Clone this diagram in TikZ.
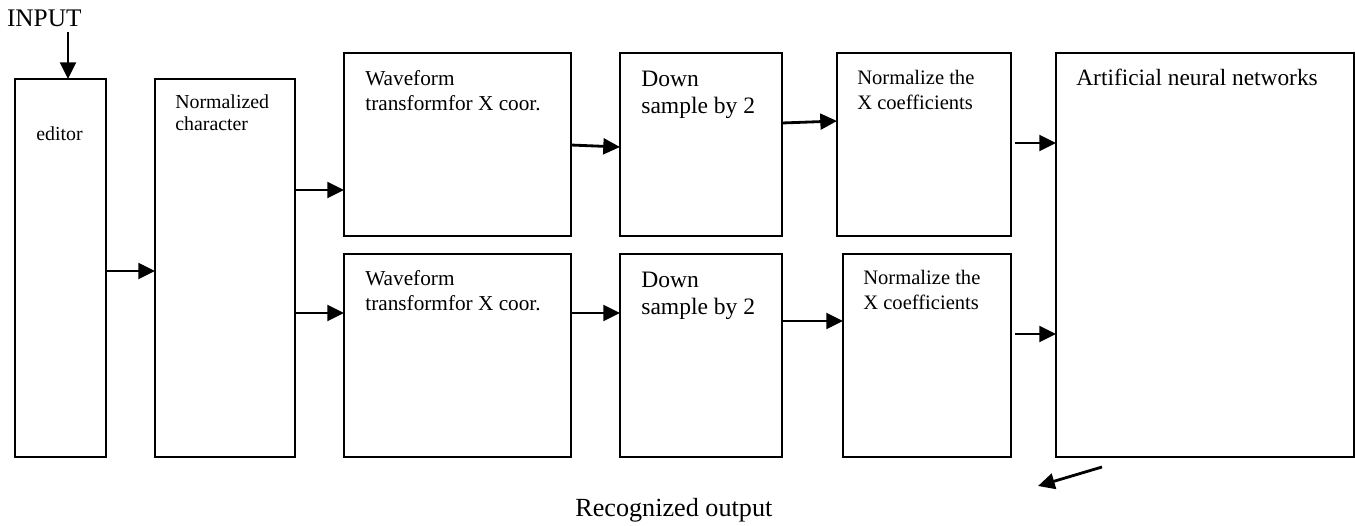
\documentclass[tikz,border=0pt]{standalone}
\usepackage{fontspec}
\setmainfont{Liberation Serif}
\usetikzlibrary{arrows.meta}
\begin{document}
\begin{tikzpicture}
    [x=0.02cm, y=-0.02cm,
    blk/.style = {draw, line width=1.2pt, rectangle, anchor=north west,
                  inner sep=0pt, outer sep=0pt},
    txt/.style = {anchor=base west, inner sep=0pt, align=left},
    wavetxt/.style = {txt, font=\fontsize{12.1}{14.2}\selectfont},
    downtxt/.style = {txt, font=\fontsize{13.4}{15.1}\selectfont},
    normtxt/.style = {txt, font=\fontsize{11.7}{14.2}\selectfont},
    arr/.style = {line width=1.6pt, -{Triangle[length=9.5pt,width=9pt]}}]
    \useasboundingbox (0,0) rectangle (1355,525);
    % Entrada y editor
    \node[txt, font=\fontsize{14.4}{17}\selectfont] (input) at (6.7,26) {INPUT};
    \node[blk, minimum width=1.82cm, minimum height=7.56cm] (editor) at (15,79) {};
    \node[txt, font=\fontsize{11.3}{13}\selectfont] (editortxt) at (36,140.7) {editor};
    % Caracter normalizado (base = ultima linea)
    \node[blk, minimum width=2.8cm, minimum height=7.56cm] (normchar) at (155,79) {};
    \node[txt, font=\fontsize{11.3}{12.3}\selectfont] (normchartxt) at (175,130) {Normalized\\character};
    % Rama superior
    \node[blk, minimum width=4.54cm, minimum height=3.66cm] (wave1) at (344,53) {};
    \node[wavetxt] (wave1txt) at (365,110) {Waveform\\transformfor X coor.};
    \node[blk, minimum width=3.24cm, minimum height=3.66cm] (down1) at (620,53) {};
    \node[downtxt] (down1txt) at (641,113.3) {Down\\sample by 2};
    \node[blk, minimum width=3.48cm, minimum height=3.66cm] (norm1) at (837,53) {};
    \node[normtxt] (norm1txt) at (857,109.3) {Normalize the\\X coefficients};
    % Rama inferior
    \node[blk, minimum width=4.54cm, minimum height=4.06cm] (wave2) at (344,254) {};
    \node[wavetxt] (wave2txt) at (365,310) {Waveform\\transformfor X coor.};
    \node[blk, minimum width=3.24cm, minimum height=4.06cm] (down2) at (620,254) {};
    \node[downtxt] (down2txt) at (641,314) {Down\\sample by 2};
    \node[blk, minimum width=3.36cm, minimum height=4.06cm] (norm2) at (843,254) {};
    \node[normtxt] (norm2txt) at (863,309.3) {Normalize the\\X coefficients};
    % Red neuronal
    \node[blk, minimum width=5.96cm, minimum height=8.08cm] (ann) at (1056,53) {};
    \node[txt, font=\fontsize{13.3}{16}\selectfont] (anntxt) at (1076,85.7) {Artificial neural networks};
    % Salida
    \node[txt, font=\fontsize{14.9}{17}\selectfont] (output) at (575,516.7) {Recognized output};
    \coordinate (intail) at (68,32);
    \coordinate (outtail) at (1102,467);
    \coordinate (outhead) at (1038,486);
    % Flechas
    \draw[arr] (intail) -- (68,0 |- editor.north);
    \draw[arr] (editor.east |- 0,271) -- (normchar.west |- 0,271);
    \draw[arr] (normchar.east |- 0,190) -- (wave1.west |- 0,190);
    \draw[arr] (normchar.east |- 0,313) -- (wave2.west |- 0,313);
    \draw[arr] (wave1.east |- 0,145) -- (down1.west |- 0,147);
    \draw[arr] (down1.east |- 0,123) -- (norm1.west |- 0,121);
    \draw[arr] (wave2.east |- 0,313) -- (down2.west |- 0,313);
    \draw[arr] (down2.east |- 0,321) -- (norm2.west |- 0,321);
    \draw[arr] ([xshift=0.08cm]norm1.east |- 0,143) -- (ann.west |- 0,143);
    \draw[arr] ([xshift=0.08cm]norm2.east |- 0,334) -- (ann.west |- 0,334);
    \draw[arr] (outtail) -- (outhead);
\end{tikzpicture}
\end{document}
